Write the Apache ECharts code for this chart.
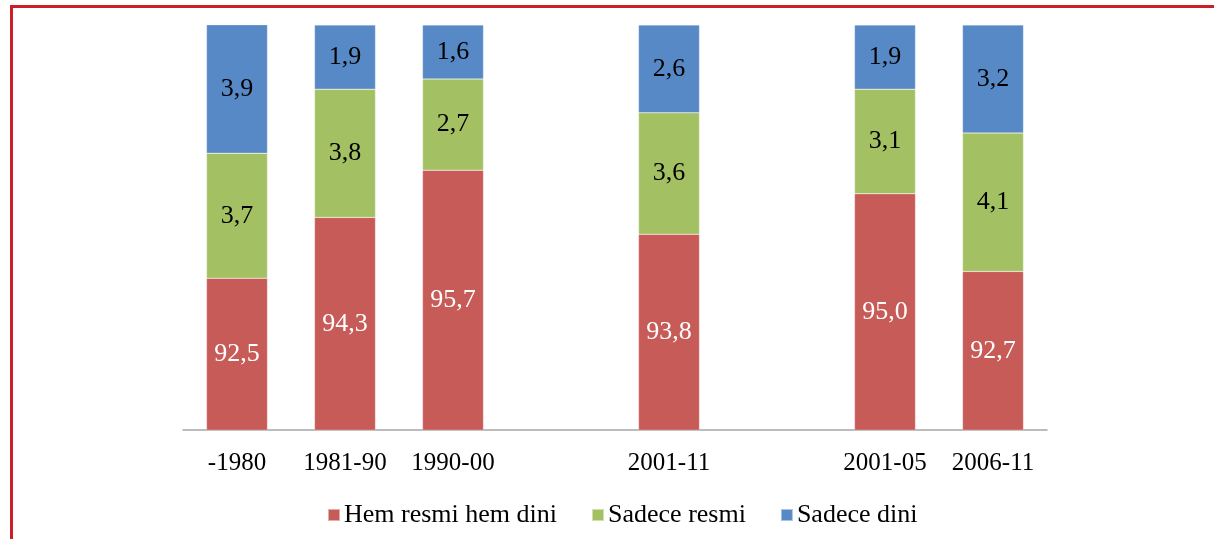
<!DOCTYPE html>
<html>
<head>
<meta charset="utf-8">
<script src="https://cdn.jsdelivr.net/npm/echarts@6/dist/echarts.min.js"></script>
<style>
html,body{margin:0;padding:0;background:#fff;}
#frame{position:absolute;left:10px;top:5px;width:1204px;height:534px;border-top:3px solid #CC1F2A;border-left:3px solid #CC1F2A;box-sizing:border-box;}
#chart{position:absolute;left:0;top:0;width:1214px;height:539px;}
</style>
</head>
<body>
<div id="frame"></div>
<div id="chart"></div>
<script>
const categories = ['-1980', '1981-90', '1990-00', '', '2001-11', '', '2001-05', '2006-11'];
const hemResmiHemDini = [92.5, 94.3, 95.7, '-', 93.8, '-', 95.0, 92.7];
const sadeceResmi = [3.7, 3.8, 2.7, '-', 3.6, '-', 3.1, 4.1];
const sadeceDini = [3.9, 1.9, 1.6, '-', 2.6, '-', 1.9, 3.2];
const seriesNames = ['Hem resmi hem dini', 'Sadece resmi', 'Sadece dini'];

const font = '"Liberation Serif", "Times New Roman", serif';
const chart = echarts.init(document.getElementById('chart'));
function mk(name, data, color, labelColor) {
  return {
    name: name, type: 'bar', stack: 'all', data: data, barWidth: '56.5%',
    itemStyle: { color: color, borderColor: 'rgba(255,255,255,0.5)', borderWidth: 0.5 },
    label: {
      show: true, position: 'inside', color: labelColor, fontFamily: font, fontSize: 26,
      formatter: p => Number(p.value).toFixed(1).replace('.', ',')
    }
  };
}
chart.setOption({
  animation: false,
  grid: { left: 183, right: 167, top: 25, bottom: 109, containLabel: false },
  legend: {
    top: 497, left: 322, itemWidth: 12, itemHeight: 12, itemGap: 34,
    icon: 'rect',
    textStyle: { fontFamily: font, fontSize: 26, color: '#000', padding: [0, 0, 0, -1] },
    data: seriesNames
  },
  xAxis: {
    type: 'category', data: categories,
    axisLine: { lineStyle: { color: '#A6A6A6', width: 1.5 } },
    axisTick: { show: false },
    axisLabel: { color: '#000', fontFamily: font, fontSize: 25, margin: 21, interval: 0 }
  },
  yAxis: {
    type: 'value', min: 88, max: 100, show: false, splitLine: { show: false }
  },
  series: [
    mk(seriesNames[0], hemResmiHemDini, '#C75B58', '#fff'),
    mk(seriesNames[1], sadeceResmi, '#A3C163', '#000'),
    mk(seriesNames[2], sadeceDini, '#5689C5', '#000')
  ]
});
</script>
</body>
</html>
